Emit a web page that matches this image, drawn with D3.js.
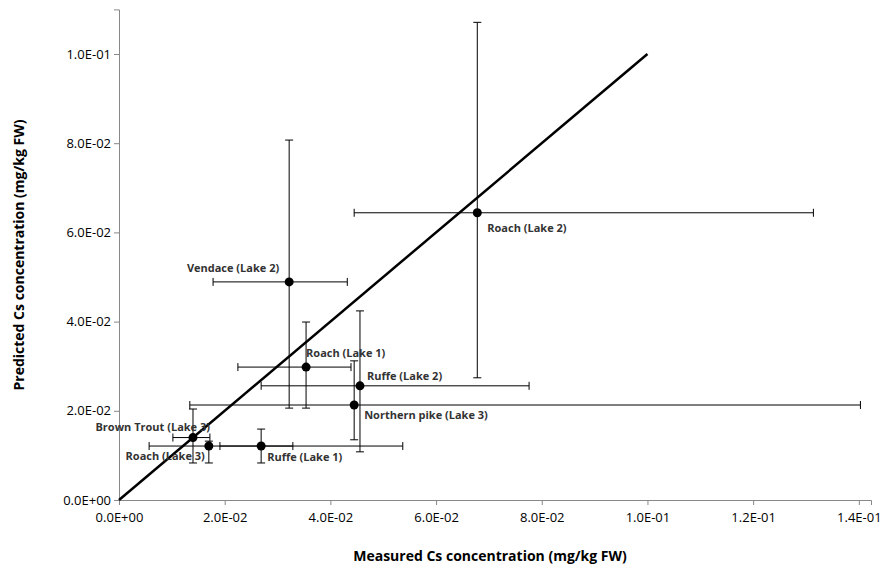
<!DOCTYPE html>
<html><head><meta charset="utf-8">
<script src="https://cdn.jsdelivr.net/npm/d3@7"></script>
<style>body{margin:0;background:#fff}text{font-family:"Open Sans",sans-serif}</style>
</head><body><div id="chart"></div>
<script>
var names = ["Roach (Lake 2)", "Vendace (Lake 2)", "Roach (Lake 1)", "Ruffe (Lake 2)", "Northern pike (Lake 3)", "Brown Trout (Lake 3)", "Roach (Lake 3)", "Ruffe (Lake 1)"];
var measured = [0.0678, 0.0322, 0.0354, 0.0456, 0.0445, 0.0140, 0.0170, 0.0269];
var predicted = [0.0644, 0.0489, 0.0298, 0.0256, 0.0213, 0.0140, 0.0121, 0.0121];
var xLow = [0.0445, 0.0178, 0.0225, 0.0269, 0.0134, 0.0102, 0.0057, 0.0191];
var xHigh = [0.1314, 0.0432, 0.0439, 0.0776, 0.1403, 0.0172, 0.0537, 0.0329];
var yLow = [0.0274, 0.0206, 0.0206, 0.0108, 0.0135, 0.0083, 0.0083, 0.0083];
var yHigh = [0.1071, 0.0807, 0.0399, 0.0424, 0.0312, 0.0204, 0.0132, 0.0159];
var xTicks = [0, 0.02, 0.04, 0.06, 0.08, 0.10, 0.12, 0.14];
var yTicks = [0, 0.02, 0.04, 0.06, 0.08, 0.10];
// label offsets [dx, dy, anchor]
var labelPos = [[10, 19, "start"], [-10, -10, "end"], [0, -10, "start"], [7, -6, "start"], [10, 14, "start"], [17, -7, "end"], [-4, 14, "end"], [6, 15, "start"]];

var svg = d3.select("#chart").append("svg").attr("width", 882).attr("height", 570);
var x = d3.scaleLinear().domain([0, 0.1423]).range([119, 871]);
var y = d3.scaleLinear().domain([0, 0.11]).range([500, 9.4]);
function fmt(v) { return v.toExponential(1).toUpperCase().replace(/E([+-])(\d)$/, "E$10$2"); }

var xAxis = svg.append("g").attr("transform", "translate(0,500)")
    .call(d3.axisBottom(x).tickValues(xTicks).tickFormat(fmt).tickSizeOuter(0).tickSize(5));
var yAxis = svg.append("g").attr("transform", "translate(119,0)")
    .call(d3.axisLeft(y).tickValues(yTicks).tickFormat(fmt).tickSizeOuter(0).tickSize(5));
svg.selectAll(".domain, .tick line").attr("stroke", "#888");
svg.selectAll(".tick text").attr("font-size", 13).attr("fill", "#000");
xAxis.selectAll(".tick text").attr("dy", "1.1em");

svg.append("line").attr("x1", x(0)).attr("y1", y(0)).attr("x2", x(0.1)).attr("y2", y(0.1))
    .attr("stroke", "#000").attr("stroke-width", 2.5);

var g = svg.append("g").attr("stroke", "#000").attr("stroke-width", 1);
names.forEach(function (n, i) {
    var cx = x(measured[i]), cy = y(predicted[i]);
    g.append("line").attr("x1", x(xLow[i])).attr("x2", x(xHigh[i])).attr("y1", cy).attr("y2", cy);
    g.append("line").attr("x1", cx).attr("x2", cx).attr("y1", y(yLow[i])).attr("y2", y(yHigh[i]));
    [xLow[i], xHigh[i]].forEach(function (v) {
        g.append("line").attr("x1", x(v)).attr("x2", x(v)).attr("y1", cy - 4).attr("y2", cy + 4);
    });
    [yLow[i], yHigh[i]].forEach(function (v) {
        g.append("line").attr("x1", cx - 4).attr("x2", cx + 4).attr("y1", y(v)).attr("y2", y(v));
    });
});
svg.selectAll("circle.pt").data(names).enter().append("circle")
    .attr("cx", (d, i) => x(measured[i])).attr("cy", (d, i) => y(predicted[i])).attr("r", 4.5).attr("fill", "#000");
svg.selectAll("text.lbl").data(names).enter().append("text")
    .attr("x", (d, i) => x(measured[i]) + labelPos[i][0])
    .attr("y", (d, i) => y(predicted[i]) + labelPos[i][1])
    .attr("text-anchor", (d, i) => labelPos[i][2])
    .attr("font-size", 11).attr("font-weight", "bold").attr("fill", "#333").text(d => d);

svg.append("text").attr("x", 490).attr("y", 561).attr("text-anchor", "middle")
    .attr("font-size", 14).attr("font-weight", "bold").text("Measured Cs concentration (mg/kg FW)");
svg.append("text").attr("transform", "translate(24,255) rotate(-90)").attr("text-anchor", "middle")
    .attr("font-size", 14).attr("font-weight", "bold").text("Predicted Cs concentration (mg/kg FW)");
</script></body></html>
